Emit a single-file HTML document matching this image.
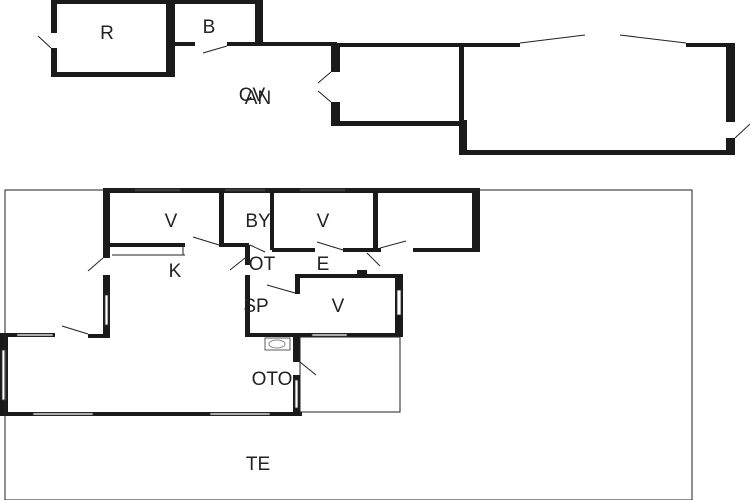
<!DOCTYPE html>
<html><head><style>
html,body{margin:0;padding:0;background:#fff}
svg{display:block}
text{font-family:"Liberation Sans",sans-serif;font-size:19px;fill:#222;text-anchor:middle}
</style></head><body>
<svg width="750" height="500" viewBox="0 0 750 500" xmlns="http://www.w3.org/2000/svg">
<rect width="750" height="500" fill="#fff"/>
<g fill="#1a1a1a">
<!-- top R/B -->
<rect x="51" y="0" width="6" height="33"/>
<rect x="51" y="48" width="6" height="29"/>
<rect x="51" y="72" width="124" height="5"/>
<rect x="166" y="0" width="9" height="77"/>
<rect x="51" y="0" width="212" height="4"/>
<rect x="255" y="0" width="8" height="46"/>
<rect x="170" y="42" width="25" height="4"/>
<rect x="227" y="42" width="110" height="4"/>
<!-- CV room -->
<rect x="331" y="43" width="9" height="29"/>
<rect x="331" y="102" width="9" height="24"/>
<rect x="331" y="43" width="135" height="4"/>
<rect x="331" y="121" width="135" height="5"/>
<!-- right garage -->
<rect x="459" y="43" width="5" height="112"/>
<rect x="459" y="120" width="8" height="35"/>
<rect x="459" y="43" width="61" height="4"/>
<rect x="686" y="43" width="49" height="4"/>
<rect x="726" y="43" width="9" height="79"/>
<rect x="726" y="138" width="9" height="17"/>
<rect x="459" y="150" width="276" height="5"/>
<!-- lower building -->
<rect x="103" y="188" width="377" height="5"/>
<rect x="103" y="188" width="7" height="70"/>
<rect x="103" y="275" width="7" height="63"/>
<rect x="88" y="334" width="22" height="4"/>
<rect x="110" y="243" width="75" height="4"/>
<rect x="219" y="188" width="5" height="57"/>
<rect x="219" y="243" width="30" height="4"/>
<rect x="245" y="245" width="5" height="20"/>
<rect x="245" y="275" width="5" height="62"/>
<rect x="245" y="333" width="158" height="4"/>
<rect x="270" y="188" width="4" height="62"/>
<rect x="272" y="248" width="43" height="4"/>
<rect x="343" y="248" width="38" height="4"/>
<rect x="373" y="188" width="5" height="62"/>
<rect x="413" y="248" width="67" height="4"/>
<rect x="472" y="188" width="8" height="64"/>
<rect x="357" y="270" width="10" height="8"/>
<rect x="295" y="274" width="108" height="4"/>
<rect x="295" y="274" width="5" height="20"/>
<rect x="395" y="274" width="8" height="63"/>
<rect x="293" y="337" width="7" height="25"/>
<rect x="293" y="375" width="7" height="41"/>
<rect x="0" y="333" width="8" height="83"/>
<rect x="0" y="333" width="55" height="4"/>
<rect x="0" y="412" width="302" height="4"/>
</g>
<g fill="#fff" stroke="#333" stroke-width="0.8">
<rect x="17" y="334" width="36" height="2"/>
<rect x="2" y="350" width="4" height="50"/>
<rect x="33" y="413" width="60" height="2"/>
<rect x="210" y="413" width="60" height="2"/>
<rect x="105" y="295" width="3" height="30"/>
<rect x="397" y="290" width="4" height="25"/>
<rect x="295" y="380" width="3" height="28"/>
<rect x="135" y="189" width="45" height="2"/>
<rect x="225" y="189" width="40" height="2"/>
<rect x="300" y="189" width="45" height="2"/>
<rect x="312" y="334" width="35" height="2"/>
<rect x="265" y="338" width="25" height="12"/>
</g>
<ellipse cx="277" cy="344" rx="8" ry="4" fill="none" stroke="#888"/>
<g fill="none" stroke="#222" stroke-width="1">
<rect x="5" y="190" width="687" height="310"/>
<rect x="300" y="337" width="100" height="75"/>
<line x1="38" y1="36" x2="51" y2="48"/>
<line x1="203" y1="53" x2="227" y2="46"/>
<line x1="318" y1="83" x2="331" y2="72"/>
<line x1="318" y1="91" x2="331" y2="102"/>
<line x1="520" y1="43" x2="585" y2="35"/>
<line x1="686" y1="43" x2="620" y2="35"/>
<line x1="735" y1="138" x2="750" y2="124"/>
<line x1="88" y1="271" x2="103" y2="258"/>
<line x1="62" y1="326" x2="88" y2="334"/>
<line x1="193" y1="237" x2="219" y2="245"/>
<line x1="250" y1="245" x2="265" y2="252"/>
<line x1="230" y1="270" x2="245" y2="258"/>
<line x1="267" y1="285" x2="295" y2="293"/>
<line x1="317" y1="242" x2="343" y2="250"/>
<line x1="380" y1="248" x2="406" y2="241"/>
<line x1="367" y1="253" x2="380" y2="266"/>
<line x1="300" y1="362" x2="316" y2="375"/>
<line x1="112" y1="255" x2="185" y2="255"/>
<line x1="183" y1="245" x2="183" y2="255"/>
</g>
<text x="107" y="39">R</text>
<text x="209" y="33">B</text>
<text x="258" y="104">AN</text>
<text x="252" y="101">CV</text>
<text x="171" y="227">V</text>
<text x="258" y="227">BY</text>
<text x="323" y="227">V</text>
<text x="175" y="277">K</text>
<text x="262" y="270">OT</text>
<text x="323" y="270">E</text>
<text x="256" y="312">SP</text>
<text x="338" y="312">V</text>
<text x="272" y="385">OTO</text>
<text x="258" y="470">TE</text>
</svg>
</body></html>
